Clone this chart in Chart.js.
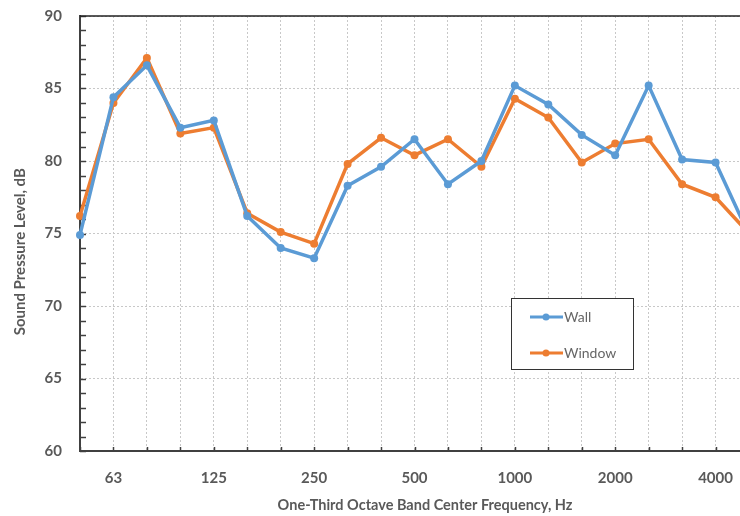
<!DOCTYPE html>
<html>
<head>
<meta charset="utf-8">
<script src="https://cdn.jsdelivr.net/npm/chart.js@4.4.1/dist/chart.umd.min.js"></script>
<style>
  html, body { margin: 0; padding: 0; background: #fff; overflow: hidden; }
  #wrap { width: 767px; height: 516px; position: relative; }
</style>
</head>
<body>
<div id="wrap"><canvas id="myChart"></canvas></div>
<script>
var bands = ['50', '63', '80', '100', '125', '160', '200', '250', '315', '400', '500',
             '630', '800', '1000', '1250', '1600', '2000', '2500', '3150', '4000', '5000'];
var wall = [74.9, 84.4, 86.6, 82.3, 82.8, 76.2, 74.0, 73.3, 78.3, 79.6, 81.5,
            78.4, 80.0, 85.2, 83.9, 81.8, 80.4, 85.2, 80.1, 79.9, 74.9];
var windowSpl = [76.2, 84.0, 87.1, 81.9, 82.3, 76.4, 75.1, 74.3, 79.8, 81.6, 80.4,
                 81.5, 79.6, 84.3, 83.0, 79.9, 81.2, 81.5, 78.4, 77.5, 75.0];
var labelBands = ['63', '125', '250', '500', '1000', '2000', '4000'];

var grey = '#595959';
var axisColor = '#404040';

// minor ticks, top border and the legend box
var frame = {
    id: 'frame',
    beforeDatasetsDraw: function(chart) {
        var ctx = chart.ctx, a = chart.chartArea;
        var x = chart.scales.x, y = chart.scales.y;
        ctx.save();
        ctx.strokeStyle = axisColor;
        ctx.lineWidth = 1.5;
        y.ticks.forEach(function(t) {
            var py = Math.round(y.getPixelForValue(t.value)) + 0.5;
            ctx.beginPath();
            ctx.moveTo(a.left, py);
            ctx.lineTo(a.left + 6, py);
            ctx.stroke();
        });
        bands.forEach(function(b, i) {
            var px = Math.round(x.getPixelForValue(i)) + 0.5;
            ctx.beginPath();
            ctx.moveTo(px, a.bottom);
            ctx.lineTo(px, a.bottom - 4);
            ctx.stroke();
        });
        ctx.strokeStyle = '#222';
        ctx.beginPath();
        ctx.moveTo(a.left, a.top);
        ctx.lineTo(a.right, a.top);
        ctx.stroke();
        ctx.restore();
    },
    afterDraw: function(chart) {
        var ctx = chart.ctx;
        var bx = 511, by = 298, bw = 122, bh = 71;
        ctx.save();
        ctx.fillStyle = '#fff';
        ctx.fillRect(bx, by, bw, bh);
        ctx.strokeStyle = '#333';
        ctx.lineWidth = 1;
        ctx.strokeRect(bx + 0.5, by + 0.5, bw, bh);
        chart.data.datasets.forEach(function(ds, i) {
            var ly = by + 19 + i * 36;
            ctx.strokeStyle = ds.borderColor;
            ctx.lineWidth = 3;
            ctx.beginPath();
            ctx.moveTo(bx + 19, ly);
            ctx.lineTo(bx + 52, ly);
            ctx.stroke();
            ctx.fillStyle = ds.borderColor;
            ctx.beginPath();
            ctx.arc(bx + 35, ly, 3.5, 0, Math.PI * 2);
            ctx.fill();
            ctx.fillStyle = '#666';
            ctx.font = '14px Lato';
            ctx.textBaseline = 'middle';
            ctx.fillText(ds.label, bx + 53, ly);
        });
        ctx.restore();
    }
};

var ctx = document.getElementById('myChart').getContext('2d');
var myChart = new Chart(ctx, {
    type: 'line',
    data: {
        labels: bands,
        datasets: [{
            label: 'Wall',
            data: wall,
            borderColor: '#5B9BD5',
            backgroundColor: '#5B9BD5',
            borderWidth: 3.5,
            pointRadius: 4,
            pointBackgroundColor: '#5B9BD5',
            pointBorderWidth: 0,
            tension: 0
        }, {
            label: 'Window',
            data: windowSpl,
            borderColor: '#ED7D31',
            backgroundColor: '#ED7D31',
            borderWidth: 3.5,
            pointRadius: 4,
            pointBackgroundColor: '#ED7D31',
            pointBorderWidth: 0,
            tension: 0
        }]
    },
    options: {
        responsive: true,
        maintainAspectRatio: false,
        animation: false,
        layout: { padding: { top: 16, right: 12, left: 0, bottom: 0 } },
        plugins: {
            legend: { display: false },
            tooltip: { enabled: false }
        },
        scales: {
            x: {
                offset: false,
                afterFit: function(scale) { scale.height = 65; },
                grid: { color: '#c8c8c8', lineWidth: 1, drawTicks: false },
                border: { color: axisColor, width: 2, dash: [2, 2] },
                ticks: {
                    autoSkip: false,
                    maxRotation: 0,
                    padding: 18,
                    color: grey,
                    font: { family: 'Lato', size: 15, weight: 'bold' },
                    callback: function(v, i) {
                        var b = bands[i];
                        return labelBands.indexOf(b) >= 0 ? b : '';
                    }
                },
                title: {
                    display: true,
                    text: '      One-Third Octave Band Center Frequency, Hz',
                    color: grey,
                    font: { family: 'Lato', size: 14.5, weight: 'bold' },
                    padding: { top: 0, bottom: 2 }
                }
            },
            y: {
                min: 60,
                max: 90,
                afterFit: function(scale) {
                    scale.width = 80;
                    scale.paddingTop = 0;
                    scale.paddingBottom = 0;
                },
                grid: {
                    drawTicks: false,
                    lineWidth: 1,
                    color: function(c) {
                        return c.tick && c.tick.value % 5 === 0 ? '#c8c8c8' : 'rgba(0,0,0,0)';
                    }
                },
                border: { color: axisColor, width: 2, dash: [2, 2] },
                ticks: {
                    autoSkip: false,
                    stepSize: 1,
                    padding: 18,
                    color: grey,
                    font: { family: 'Lato', size: 15, weight: 'bold' },
                    callback: function(v) { return v % 5 === 0 ? v : ''; }
                },
                title: {
                    display: true,
                    text: 'Sound Pressure Level, dB          ',
                    color: grey,
                    font: { family: 'Lato', size: 15, weight: 'bold' },
                    padding: { top: 11, bottom: 0 }
                }
            }
        }
    },
    plugins: [frame]
});
</script>
</body>
</html>
